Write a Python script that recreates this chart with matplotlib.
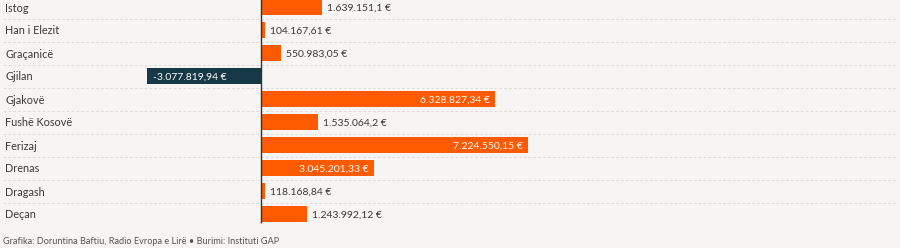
import matplotlib
matplotlib.use("Agg")
import matplotlib.pyplot as plt

categories = ["Istog", "Han i Elezit", "Graçanicë", "Gjilan", "Gjakovë",
              "Fushë Kosovë", "Ferizaj", "Drenas", "Dragash", "Deçan"]
values = [1639151.10, 104167.61, 550983.05, -3077819.94, 6328827.34,
          1535064.20, 7224550.15, 3045201.33, 118168.84, 1243992.12]
footer = "Grafika: Doruntina Baftiu, Radio Evropa e Lirë • Burimi: Instituti GAP"


def fmt(v):
    s = f"{abs(v):,.2f}"
    ip, dp = s.split(".")
    dp = dp.rstrip("0")
    ip = ip.replace(",", ".")
    out = ip + ("," + dp if dp else "")
    return ("-" if v < 0 else "") + out + " €"


BG = "#f7f5f3"
ORANGE = "#ff5a00"
NAVY = "#173846"
TXT = "#3a3a3a"
FONT = ["Lato", "DejaVu Sans"]
plt.rcParams["font.family"] = FONT
FS = 7.8
FSV = 7.5

W, H = 900, 248
fig = plt.figure(figsize=(W / 100, H / 100), dpi=100, facecolor=BG)
top_px, bot_px = -4.5, 225.5
ax = fig.add_axes([0, (H - bot_px) / H, 1, (bot_px - top_px) / H])
ax.set_facecolor(BG)
scale = 36.96e-6  # px per euro
ax.set_xlim(-261 / scale, (W - 261) / scale)
ax.set_ylim(len(categories) - 0.5, -0.5)
for s in ax.spines.values():
    s.set_visible(False)
ax.set_xticks([])
ax.set_yticks([])

ys = list(range(len(categories)))
colors = [ORANGE if v >= 0 else NAVY for v in values]
ax.barh(ys, values, height=0.7, color=colors, edgecolor="none", zorder=3)

for i in range(len(categories) - 1):
    ax.plot([0.003, 0.995], [i + 0.5, i + 0.5], transform=ax.get_yaxis_transform(),
            color="#e0dedc", lw=0.7, ls=(0, (3, 2)), zorder=1)

ax.vlines(0, -0.5, len(categories) - 0.6, color="#333333", lw=1.0, zorder=4)

px = 1 / scale
for y, (c, v) in enumerate(zip(categories, values)):
    ax.text(5 / W, y, c, transform=ax.get_yaxis_transform(), ha="left",
            va="center_baseline", fontsize=FS, color=TXT)
    lab = fmt(v)
    if v < 0:
        ax.text(v + 6 * px, y, lab, ha="left", va="center_baseline", fontsize=FSV,
                color="white", zorder=5)
    elif v > 2.5e6:
        ax.text(v - 5 * px, y, lab, ha="right", va="center_baseline", fontsize=FSV,
                color="white", zorder=5)
    else:
        ax.text(v + 5 * px, y, lab, ha="left", va="center_baseline", fontsize=FSV,
                color=TXT, zorder=5)

fig.text(3 / W, 1 - 241 / H, footer, ha="left", va="center_baseline", fontsize=6.6,
         color="#555555")

fig.savefig("out.png", dpi=100, facecolor=BG)
